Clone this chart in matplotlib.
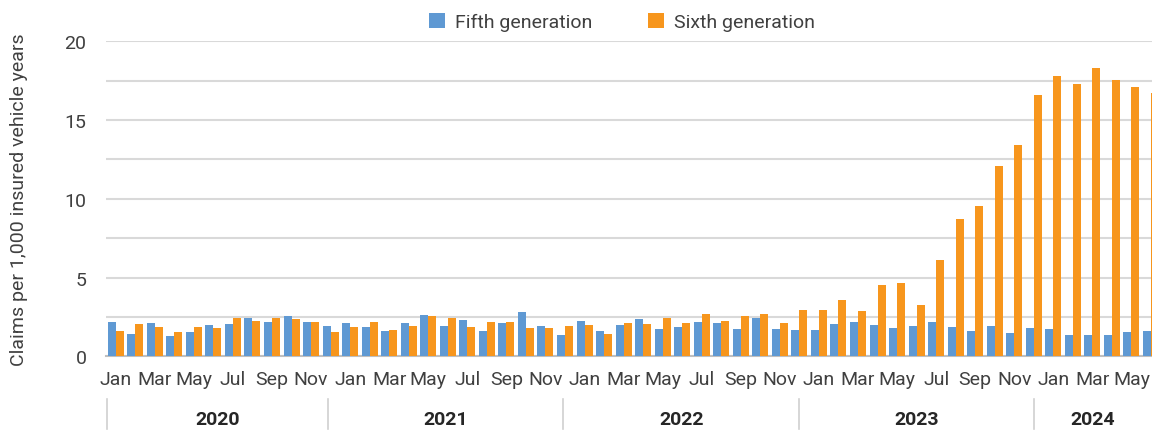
import matplotlib
matplotlib.use("Agg")
import matplotlib.pyplot as plt
import numpy as np

months = ["Jan", "Feb", "Mar", "Apr", "May", "Jun", "Jul", "Aug", "Sep", "Oct", "Nov", "Dec"] * 4 + \
         ["Jan", "Feb", "Mar", "Apr", "May", "Jun"]
years = ["2020", "2021", "2022", "2023", "2024"]

fifth = [2.20, 1.42, 2.12, 1.29, 1.54, 1.99, 2.05, 2.43, 2.18, 2.56, 2.18, 1.93,
         2.12, 1.86, 1.61, 2.12, 2.62, 1.93, 2.31, 1.61, 2.12, 2.81, 1.93, 1.36,
         2.24, 1.61, 1.99, 2.37, 1.74, 1.86, 2.18, 2.12, 1.74, 2.43, 1.74, 1.67,
         1.67, 2.05, 2.18, 1.99, 1.80, 1.93, 2.18, 1.86, 1.61, 1.93, 1.48, 1.80,
         1.74, 1.35, 1.35, 1.35, 1.54, 1.61]
sixth = [1.63, 2.05, 1.86, 1.54, 1.86, 1.80, 2.43, 2.24, 2.43, 2.37, 2.18, 1.54,
         1.86, 2.18, 1.67, 1.93, 2.56, 2.43, 1.86, 2.18, 2.18, 1.80, 1.80, 1.93,
         1.99, 1.42, 2.12, 2.05, 2.43, 2.12, 2.68, 2.24, 2.56, 2.68, 2.12, 2.94,
         2.94, 3.58, 2.88, 4.53, 4.66, 3.26, 6.12, 8.73, 9.56, 12.10, 13.43, 16.61,
         17.82, 17.31, 18.33, 17.57, 17.12, 16.74]

FONT = ["Roboto", "DejaVu Sans"]
plt.rcParams["font.family"] = FONT
TXT = "#404040"

fig = plt.figure(figsize=(11.52, 4.35), dpi=100)
ax = fig.add_axes([0.092, 0.1786, 0.908, 0.7242])

x = np.arange(len(months))
w = 0.41
ax.bar(x - w / 2, fifth, width=w, color="#5f99d3", label="Fifth generation", zorder=3)
ax.bar(x + w / 2, sixth, width=w, color="#f7961d", label="Sixth generation", zorder=3)

ax.set_xlim(-0.5, 53.05)
ax.set_ylim(0, 20)
ax.set_yticks([0, 5, 10, 15, 20])
ax.set_yticks(np.arange(2.5, 20, 5), minor=True)
ax.grid(axis="y", which="both", color="#d9d9d9", linewidth=1.5, zorder=0)
ax.tick_params(axis="y", which="both", length=0, pad=14, labelsize=14, labelcolor=TXT)
ax.set_xticks(x[::2])
ax.set_xticklabels(months[::2])
ax.tick_params(axis="x", length=0, pad=10, labelsize=14, labelcolor=TXT)
for s in ["top", "right", "left"]:
    ax.spines[s].set_visible(False)
ax.spines["bottom"].set_color("#bfbfbf")
ax.spines["bottom"].set_linewidth(1.5)
ax.set_axisbelow(True)

ax.set_ylabel("Claims per 1,000 insured vehicle years", fontsize=14, color=TXT, labelpad=26)

# year row
seps = [-0.45, 10.85, 22.9, 35.0, 47.0, 53.05]
trans = ax.get_xaxis_transform()
for s in seps[:-1]:
    ax.plot([s, s], [-0.136, -0.231], transform=trans, color="#d0d0d0", lw=1.2, clip_on=False)
for i, yr in enumerate(years):
    mid = (seps[i] + seps[i + 1]) / 2
    ax.text(mid, -0.2, yr, transform=trans, ha="center", va="center",
            fontsize=14, fontweight="bold", color="#262626")

fig.legend(loc="center", bbox_to_anchor=(0.54, 0.947), ncol=2, frameon=False,
           fontsize=14, handlelength=0.8, handleheight=0.8, columnspacing=2.9,
           handletextpad=0.5, labelcolor=TXT)

fig.savefig("out.png", dpi=100)
